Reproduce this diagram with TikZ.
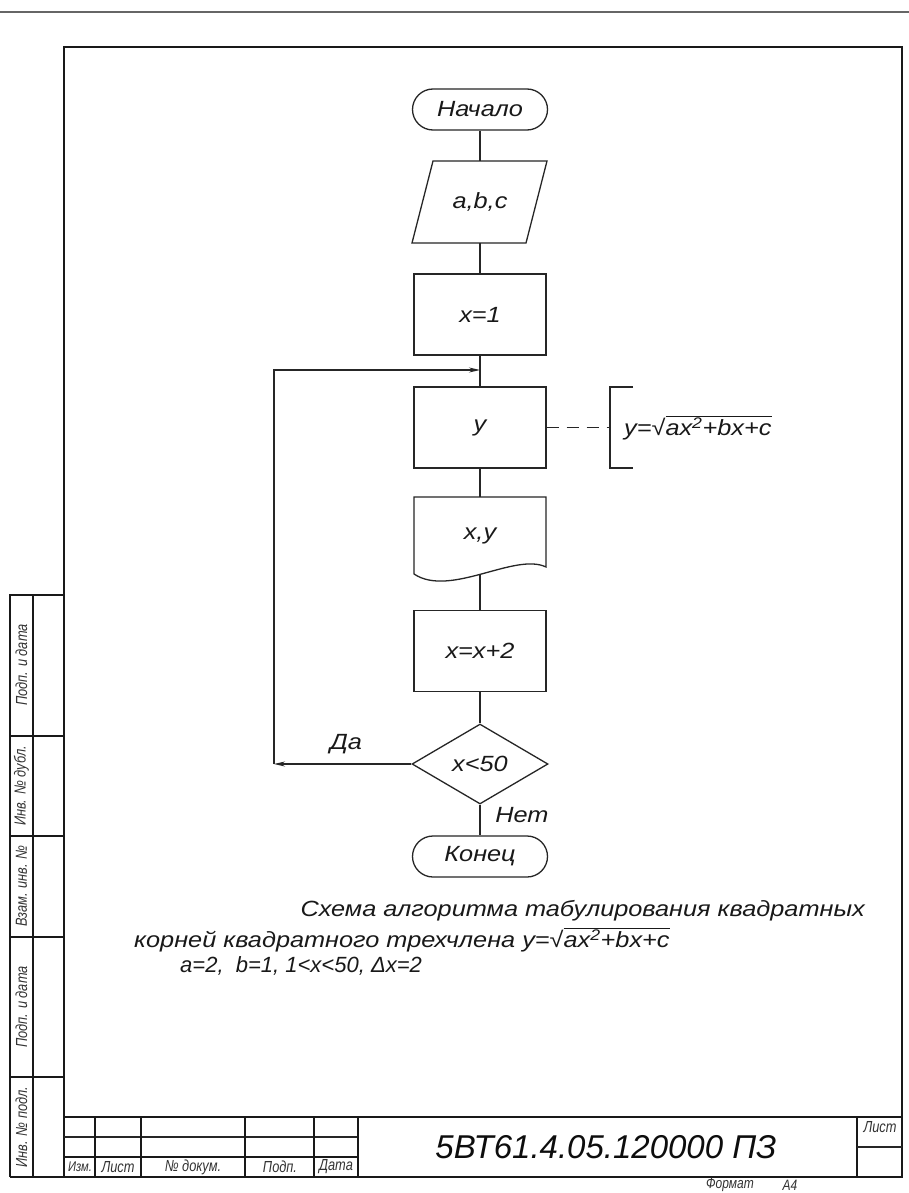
\documentclass[tikz,border=0pt]{standalone}
\usepackage{fontspec}
\usetikzlibrary{shapes.geometric,shapes.misc,arrows.meta}
\newfontfamily\gost{Liberation Sans}[UprightFont={* Italic},FakeStretch=1.15]
\newfontfamily\gostm{Liberation Sans}[UprightFont={* Italic},FakeStretch=1.0]
\newfontfamily\gostn{Liberation Sans}[UprightFont={* Italic},FakeStretch=0.8]
\newfontfamily\bigfont{Liberation Sans}[UprightFont={* Italic}]
\newcommand{\myformula}{y=√$\overline{\hbox{ax\textsuperscript{2}+bx+c}}$}
\tikzset{
  ln/.style={line width=1.3pt, draw=black!85},
  proc/.style={ln, rectangle, minimum width=132pt, minimum height=81pt, inner sep=0pt, font=\gost\fontsize{22}{24}\selectfont, text=black!90},
  term/.style={ln, rounded rectangle, minimum width=135pt, minimum height=41pt, inner sep=0pt, font=\gost\fontsize{22}{24}\selectfont, text=black!90},
  decis/.style={ln, diamond, minimum width=136pt, minimum height=80pt, inner sep=0pt, font=\gost\fontsize{22}{24}\selectfont, text=black!90},
  plain/.style={inner sep=0pt, font=\gost\fontsize{22}{24}\selectfont, text=black!90},
  arr/.style={ln, -{Stealth[length=11pt,width=5pt]}},
  frame/.style={line width=2.4pt, draw=black!90},
  thinl/.style={line width=1.2pt, draw=black!85},
  lab/.style={font=\gostn\fontsize{16}{18}\selectfont, text=black!80, inner sep=0pt},
}
\begin{document}
\begin{tikzpicture}[x=1pt,y=-1pt]
\useasboundingbox (0,0) rectangle (909,1193);
\fill[white] (0,0) rectangle (909,1193);
% header rule
\draw[line width=1.6pt, draw=black!60] (0,12) -- (909,12);
% frame
\draw[frame] (64,47) rectangle (902,1177);
% title block
\draw[frame] (10,1177) -- (64,1177);
\draw[frame] (64,1117) -- (902,1117);
\draw[thinl] (64,1137) -- (358,1137);
\draw[frame, line width=1.8pt] (64,1157) -- (358,1157);
\foreach \xx in {95,141,245,314,358,857} \draw[frame, line width=1.8pt] (\xx,1117) -- (\xx,1177);
\draw[thinl] (857,1147) -- (902,1147);
\node[lab, font=\gostn\fontsize{14}{16}\selectfont] (tIzm) at (80,1167) {Изм.};
\node[lab] (tList) at (118,1167) {Лист};
\node[lab] (tDoc) at (193,1167) {№ докум.};
\node[lab] (tPodp) at (280,1167) {Подп.};
\node[lab] (tData) at (336,1167) {Дата};
\node[lab] (tSheet) at (880,1127) {Лист};
\node[font=\bigfont\fontsize{33}{35}\selectfont, text=black!95, inner sep=0pt] (code) at (606,1147) {5ВТ61.4.05.120000 ПЗ};
\node[lab, font=\gostn\fontsize{15}{16}\selectfont] (fmt) at (730,1185) {Формат};
\node[lab, font=\gostn\fontsize{15}{16}\selectfont] (a4) at (790,1185) {А4};
% left strip
\draw[frame, line width=1.8pt] (64,595) -- (10,595) -- (10,1177);
\draw[frame, line width=1.8pt] (33,595) -- (33,1177);
\foreach \yy in {736,836,937,1077} \draw[frame, line width=1.8pt] (10,\yy) -- (64,\yy);
\node[lab, rotate=90] (s1) at (21.5,665) {Подп. и дата};
\node[lab, rotate=90] (s2) at (21.5,786) {Инв. № дубл.};
\node[lab, rotate=90] (s3) at (21.5,886) {Взам. инв. №};
\node[lab, rotate=90] (s4) at (21.5,1007) {Подп. и дата};
\node[lab, rotate=90] (s5) at (21.5,1127) {Инв. № подл.};
% flowchart
\node[term, draw] (start) at (480,109.5) {Начало};
\node[plain, minimum width=100pt, minimum height=82pt] (io) at (480,202) {a,b,c};
\draw[ln] (412,243) -- (433,161) -- (547,161) -- (526,243) -- cycle;
\node[proc, draw] (x1) at (480,314.5) {x=1};
\node[proc, draw] (yb) at (480,427.5) {y};
\node[plain, minimum width=132pt, minimum height=77pt] (doc) at (480,535.5) {x,y};
\draw[ln] (414,574) -- (414,497) -- (546,497) -- (546,567) .. controls (515,552) and (450,598) .. (414,574);
\node[proc, draw] (x2) at (480,651) {x=x+2};
\node[decis, draw] (dia) at (480,764) {x<50};
\node[term, draw] (fin) at (480,856.5) {Конец};
\draw[ln] (start.south) -- (io.north);
\draw[ln] (io.south) -- (x1.north);
\draw[ln] (x1.south) -- (yb.north);
\draw[ln] (yb.south) -- (doc.north);
\draw[ln] (doc.south) -- (x2.north);
\draw[ln] (x2.south) -- (dia.north);
\draw[ln] (dia.south) -- (fin.north);
% loop
\coordinate (cL) at (274,764);
\coordinate (cT) at (274,370);
\coordinate (jn) at (480,370);
\draw[arr] (dia.west) -- (cL);
\draw[arr] (cL) -- (cT) -- (jn);
\node[plain] (da) at (346,744) {Да};
\node[plain] (net) at (522,815) {Нет};
% comment
\coordinate (br) at (610,427.5);
\draw[ln, dash pattern=on 12pt off 8pt] (yb.east) -- (br);
\draw[ln] (633,387) -- (610,387) -- (610,468) -- (633,468);
\node[plain, anchor=west] (form) at (624,428) {\myformula};
% caption
\node[plain, anchor=east] (cap1) at (865,911) {Схема алгоритма табулирования квадратных};
\node[plain, anchor=west] (cap2) at (134,940) {корней квадратного трехчлена \myformula};
\node[plain, anchor=west, font=\gostm\fontsize{22}{24}\selectfont] (cap3) at (180,966) {a=2,\ \ b=1, 1<x<50, Δx=2};
\end{tikzpicture}
\end{document}
